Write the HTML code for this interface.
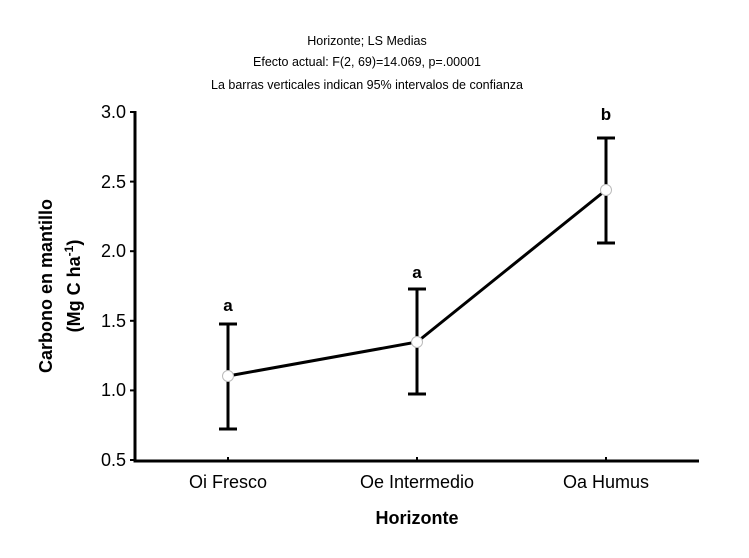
<!DOCTYPE html>
<html><head><meta charset="utf-8"><style>body{margin:0;background:#fff}</style></head><body>
<svg width="749" height="553" xmlns="http://www.w3.org/2000/svg" font-family="Liberation Sans, Arial, sans-serif">
<rect width="749" height="553" fill="#fff"/>
<g font-size="12.5" text-anchor="middle" fill="#000">
<text x="367" y="45">Horizonte; LS Medias</text>
<text x="367" y="66">Efecto actual: F(2, 69)=14.069, p=.00001</text>
<text x="367" y="89">La barras verticales indican 95% intervalos de confianza</text>
</g>
<g stroke="#000" stroke-width="3" fill="none">
<path d="M135,111 V461 H699"/>
</g>
<g stroke="#000" stroke-width="2">
<line x1="228" y1="461" x2="228" y2="457"/><line x1="417" y1="461" x2="417" y2="457"/><line x1="606" y1="461" x2="606" y2="457"/>
<line x1="135" y1="112" x2="130" y2="112"/><line x1="135" y1="181.6" x2="130" y2="181.6"/><line x1="135" y1="251.2" x2="130" y2="251.2"/><line x1="135" y1="320.8" x2="130" y2="320.8"/><line x1="135" y1="390.4" x2="130" y2="390.4"/><line x1="135" y1="460" x2="130" y2="460"/>
</g>
<g font-size="18" text-anchor="end" fill="#000">
<text x="126" y="118">3.0</text><text x="126" y="188">2.5</text><text x="126" y="257">2.0</text><text x="126" y="327">1.5</text><text x="126" y="396">1.0</text><text x="126" y="466">0.5</text>
</g>
<g font-size="18" text-anchor="middle" fill="#000">
<text x="228" y="488">Oi Fresco</text><text x="417" y="488">Oe Intermedio</text><text x="606" y="488">Oa Humus</text>
<text x="417" y="524" font-weight="bold">Horizonte</text>
</g>
<g font-size="18" font-weight="bold" text-anchor="middle" fill="#000">
<text transform="translate(52,286) rotate(-90)">Carbono en mantillo</text>
<text transform="translate(80,286) rotate(-90)">(Mg C ha<tspan font-size="12" dy="-7">-1</tspan><tspan dy="7">)</tspan></text>
</g>
<g stroke="#000" stroke-width="3" fill="none">
<path d="M228,324 V429 M219,324 H237 M219,429 H237"/>
<path d="M417,289 V394 M408,289 H426 M408,394 H426"/>
<path d="M606,138 V243 M597,138 H615 M597,243 H615"/>
<polyline points="228,376 417,342 606,190"/>
</g>
<g fill="#fff" stroke="#bbb" stroke-width="1">
<circle cx="228" cy="376" r="5.5"/><circle cx="417" cy="342" r="5.5"/><circle cx="606" cy="190" r="5.5"/>
</g>
<g font-size="17" font-weight="bold" text-anchor="middle" fill="#000">
<text x="228" y="311">a</text><text x="417" y="278">a</text><text x="606" y="120">b</text>
</g>
</svg>
</body></html>
